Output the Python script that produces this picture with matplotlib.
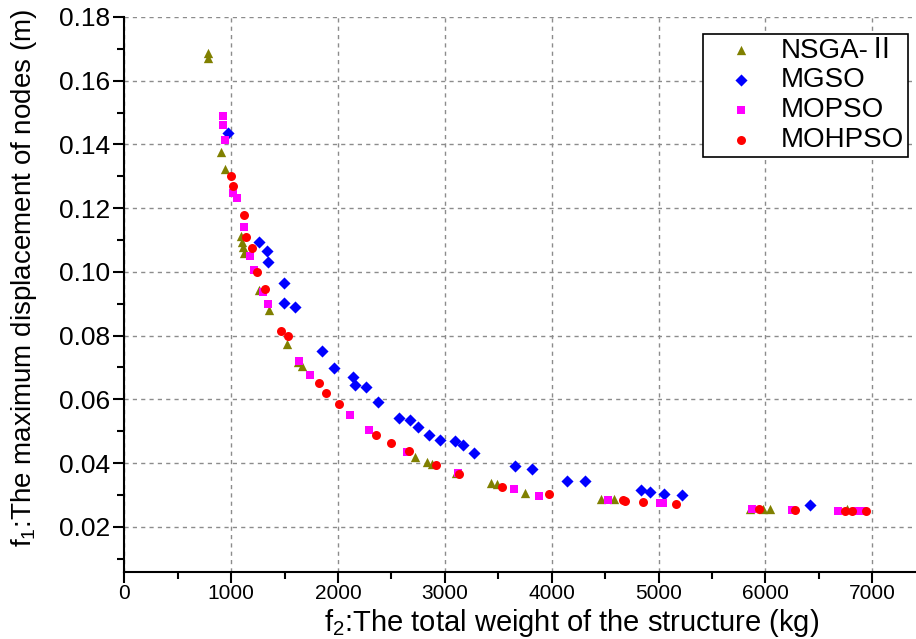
import numpy as np
import matplotlib
matplotlib.use("Agg")
import matplotlib.pyplot as plt
from matplotlib.ticker import MultipleLocator

plt.rcParams['font.family'] = ['Liberation Sans', 'Noto Sans CJK SC', 'DejaVu Sans']
plt.rcParams['mathtext.fontset'] = 'custom'
plt.rcParams['mathtext.rm'] = 'Liberation Sans'

#Valores
nsga_x = [778, 778, 906, 940, 1092, 1098, 1107, 1123, 1263, 1349, 1520, 1623, 1666,
          2720, 2833, 2878, 3108, 3428, 3484, 3753, 4461, 4582, 5858, 5979, 6048, 6761]
nsga_y = [0.1687, 0.1671, 0.1377, 0.1323, 0.1114, 0.1094, 0.1078, 0.1060, 0.0943, 0.0880,
          0.0773, 0.0717, 0.0705, 0.0420, 0.0403, 0.0397, 0.0368, 0.0338, 0.0335, 0.0307,
          0.0288, 0.0288, 0.0257, 0.0257, 0.0256, 0.0255]

mgso_x = [974, 1256, 1334, 1340, 1495, 1495, 1595, 1849, 1964, 2144, 2154, 2259, 2371,
          2566, 2671, 2752, 2847, 2954, 3099, 3167, 3277, 3655, 3814, 4140, 4309, 4833,
          4920, 5048, 5220, 6421]
mgso_y = [0.1435, 0.1094, 0.1064, 0.1031, 0.0966, 0.0901, 0.0889, 0.0753, 0.0698, 0.0670,
          0.0645, 0.0638, 0.0592, 0.0541, 0.0535, 0.0513, 0.0487, 0.0471, 0.0469, 0.0455,
          0.0431, 0.0391, 0.0381, 0.0344, 0.0343, 0.0314, 0.0309, 0.0302, 0.0301, 0.0269]

mopso_x = [921, 925, 940, 1020, 1055, 1116, 1179, 1216, 1293, 1344, 1635, 1735, 2113,
           2293, 2647, 3120, 3651, 3879, 4531, 5013, 5045, 5875, 6253, 6677, 6861, 6914]
mopso_y = [0.1489, 0.1462, 0.1414, 0.1249, 0.1231, 0.1142, 0.1049, 0.1007, 0.0938, 0.0899,
           0.0719, 0.0676, 0.0552, 0.0504, 0.0434, 0.0368, 0.0317, 0.0298, 0.0285, 0.0273,
           0.0273, 0.0255, 0.0253, 0.0249, 0.0248, 0.0248]

mohpso_x = [999, 1014, 1116, 1139, 1195, 1241, 1316, 1465, 1530, 1824, 1889, 2005, 2358,
            2498, 2667, 2917, 3132, 3533, 3974, 4670, 4689, 4850, 5159, 5937, 6278, 6747,
            6807, 6942]
mohpso_y = [0.1300, 0.1270, 0.1177, 0.1109, 0.1075, 0.1001, 0.0945, 0.0815, 0.0798, 0.0651,
            0.0619, 0.0585, 0.0489, 0.0463, 0.0437, 0.0395, 0.0367, 0.0326, 0.0303, 0.0283,
            0.0281, 0.0279, 0.0270, 0.0255, 0.0251, 0.0248, 0.0248, 0.0248]

fig = plt.figure(figsize=(9.16, 6.39), dpi=100)
ax = fig.add_axes([0.1358, 0.1049, 0.8642, 0.8685])

ax.scatter(nsga_x, nsga_y, marker="^", s=45, c="#808000", label="NSGA-Ⅱ", zorder=3, linewidths=0)
ax.scatter(mgso_x, mgso_y, marker="D", s=38, c="#0000ff", label="MGSO", zorder=3, linewidths=0)
ax.scatter(mopso_x, mopso_y, marker="s", s=32, c="#ff00ff", label="MOPSO", zorder=3, linewidths=0)
ax.scatter(mohpso_x, mohpso_y, marker="o", s=42, c="#ff0000", label="MOHPSO", zorder=3, linewidths=0)

ax.set_xlim(0, 7410)
ax.set_ylim(0.0058, 0.18)
ax.xaxis.set_major_locator(MultipleLocator(1000))
ax.xaxis.set_minor_locator(MultipleLocator(500))
ax.yaxis.set_major_locator(MultipleLocator(0.02))
ax.yaxis.set_minor_locator(MultipleLocator(0.01))
ax.yaxis.set_major_formatter(matplotlib.ticker.FormatStrFormatter("%.2f"))

ax.spines["top"].set_visible(False)
ax.spines["right"].set_visible(False)
ax.spines["left"].set_linewidth(1.5)
ax.spines["bottom"].set_linewidth(1.5)
ax.tick_params(which="major", direction="out", length=8, width=1.5, pad=2)
ax.tick_params(which="minor", direction="out", length=5, width=1.5)
ax.tick_params(axis="x", labelsize=15, pad=1)
ax.tick_params(axis="y", labelsize=19)
ax.grid(True, which="major", color="#8c8c8c", linestyle=(0, (3, 3)), linewidth=1)
ax.set_axisbelow(True)

ax.set_xlabel(r"f$_{\mathregular{2}}$:The total weight of the structure (kg)", fontsize=21)
ax.set_ylabel(r"f$_{\mathregular{1}}$:The maximum displacement of nodes (m)", fontsize=20)
ax.xaxis.set_label_coords(0.565, -0.063)
ax.yaxis.set_label_coords(-0.108, 0.53)

leg = ax.legend(loc="upper right", bbox_to_anchor=(0.9895, 0.969), borderaxespad=0,
                fontsize=20, fancybox=False, edgecolor="black", framealpha=1,
                borderpad=0.12, labelspacing=0.14, handlelength=2.5, handletextpad=0.2,
                scatterpoints=1)
leg.get_frame().set_linewidth(1.2)

fig.savefig("out.png", dpi=100)
